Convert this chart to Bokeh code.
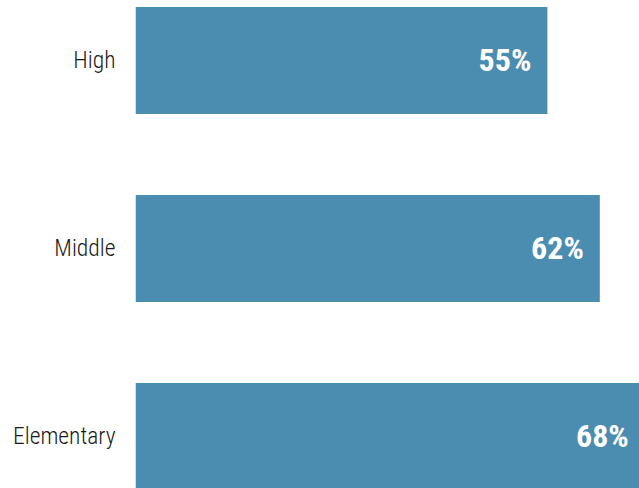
from bokeh.plotting import figure
from bokeh.models import ColumnDataSource, FixedTicker, LabelSet
from bokeh.core.properties import value
from bokeh.embed import file_html
from bokeh.resources import INLINE

categories = ["Elementary", "Middle", "High"]
values = [68, 62, 55]
value_labels = ["68%", "62%", "55%"]
positions = [0, 1, 2]

src = ColumnDataSource(dict(y=positions, v=values, lab=value_labels, cat=categories))

p = figure(width=639, height=488, output_backend="svg", toolbar_location=None,
           x_range=(0, 67.3), y_range=(-0.2766, 2.319),
           min_border_left=135, min_border_right=0, min_border_top=0, min_border_bottom=0)
p.hbar(y="y", right="v", left=0, height=0.569, source=src, color="#4a8db0", line_color=None)

labels = LabelSet(x="v", y="y", text="lab", source=src, x_offset=-16, y_offset=0,
                  text_align="right", text_baseline="middle", text_color="white",
                  text_font=value("Roboto Condensed"), text_font_size="32px", text_font_style="bold")
p.add_layout(labels)

p.xaxis.visible = False
p.yaxis.ticker = FixedTicker(ticks=positions)
p.yaxis.major_label_overrides = {pos: c for pos, c in zip(positions, categories)}
p.yaxis.axis_line_color = None
p.yaxis.major_tick_line_color = None
p.yaxis.minor_tick_line_color = None
p.yaxis.major_label_standoff = 14
p.yaxis.major_label_text_font = "Roboto Condensed Light"
p.yaxis.major_label_text_font_size = "23.5px"
p.yaxis.major_label_text_font_style = "normal"
p.yaxis.major_label_text_color = "#1a1a1a"
p.xgrid.visible = False
p.ygrid.visible = False
p.outline_line_color = None

open("out.html", "w").write(file_html(p, INLINE))
